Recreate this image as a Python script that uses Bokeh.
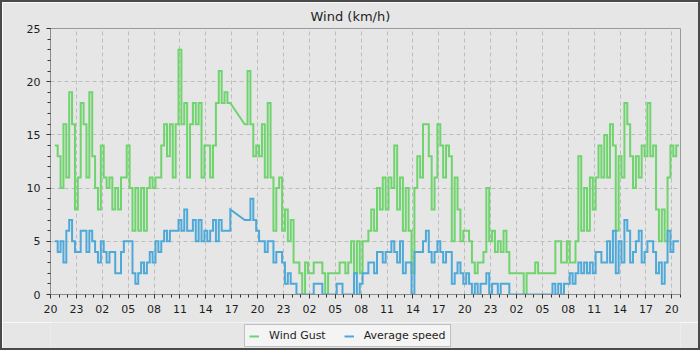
from bokeh.plotting import figure
from bokeh.models import FixedTicker, Legend, LegendItem, Range1d
from bokeh.layouts import column
from bokeh.embed import file_html
from bokeh.resources import INLINE

title_text = "Wind (km/h)"
tick_hours = list(range(0, 73, 3))
tick_labels = ["20", "23", "02", "05", "08", "11", "14", "17"] * 3 + ["20"]

# samples every 20 minutes, first sample 30 min after the first "20" tick
start_hour = 0.5
step_hours = 1 / 3

gust = [
    14, 13, 10, 16, 11, 19, 16, 8, 11, 18, 16, 11,
    19, 13, 10, 8, 14, 11, 10, 11, 8, 10, 8, 11,
    11, 14, 10, 6, 10, 6, 10, 6, 10, 11, 10, 11,
    11, 14, 16, 13, 16, 11, 16, 23, 16, 18, 11, 16,
    18, 16, 18, 11, 14, 14, 11, 14, 18, 21, 18, 19,
    18, 18, None, None, None, None, 16, 21, 16, 13, 14, 13,
    16, 11, 18, 11, 6, 10, 11, 6, 8, 5, 7, 3,
    3, 2, 0, 3, 2, 2, 3, 3, 3, 2, 0, 2,
    2, 2, 2, 3, 3, 2, 3, 5, 2, 5, 2, 5,
    5, 6, 8, 6, 10, 8, 11, 8, 11, 10, 14, 8,
    11, 6, 10, 6, 2, 10, 13, 11, 16, 16, 13, 8,
    11, 16, 14, 11, 14, 13, 5, 11, 8, 5, 6, 6,
    5, 3, 2, 3, 3, 4, 10, 5, 6, 4, 5, 4,
    6, 4, 2, 2, 2, 2, 2, 0, 2, 2, 2, 3,
    2, 2, 2, 2, 2, 2, 5, 5, 3, 3, 5, 3,
    3, 5, 13, 6, 10, 6, 11, 8, 11, 14, 11, 15,
    11, 16, 14, 6, 13, 11, 18, 16, 13, 10, 13, 11,
    14, 13, 18, 13, 14, 8, 5, 8, 5, 11, 14, 13,
    14, 14,
]

avg = [
    5, 4, 5, 3, 6, 7, 5, 4, 4, 6, 6, 4,
    6, 5, 4, 3, 5, 4, 3, 4, 4, 2, 2, 4,
    5, 5, 5, 2, 1, 2, 3, 2, 3, 4, 3, 5,
    4, 5, 6, 5, 6, 6, 6, 7, 6, 8, 6, 6,
    7, 5, 7, 5, 6, 5, 6, 7, 5, 7, 6, 6,
    6, 8, None, None, None, None, 7, 7, 9, 7, 6, 5,
    5, 4, 5, 5, 3, 4, 4, 3, 1, 2, 1, 1,
    0, 0, 0, 0, 0, 0, 1, 1, 1, 0, 0, 0,
    0, 0, 1, 1, 0, 0, 0, 0, 2, 0, 1, 2,
    2, 3, 3, 2, 4, 4, 3, 4, 4, 5, 4, 3,
    5, 2, 3, 3, 0, 4, 4, 4, 5, 6, 4, 3,
    4, 5, 4, 3, 4, 4, 1, 2, 3, 2, 1, 2,
    1, 0, 1, 0, 1, 1, 2, 0, 1, 1, 0, 1,
    1, 1, 0, 0, 0, 0, 0, 0, 0, 0, 0, 0,
    0, 0, 0, 0, 0, 1, 0, 1, 0, 1, 1, 2,
    1, 2, 3, 2, 3, 2, 3, 2, 4, 4, 3, 3,
    5, 3, 6, 2, 5, 3, 7, 6, 3, 4, 5, 6,
    3, 4, 5, 5, 4, 2, 3, 1, 3, 6, 4, 5,
    5, 5,
]

series_names = ["Wind Gust", "Average speed"]
series_colors = ["#6fd46d", "#4ea9d9"]


def step_path(hours, values, max_gap=0.5):
    xs, ys = [], []
    prev = None
    for t, v in zip(hours, values):
        if v is None:
            continue
        if prev is not None and t - prev[0] <= max_gap:
            xs.append(t)
            ys.append(prev[1])
        xs.append(t)
        ys.append(v)
        prev = (t, v)
    return xs, ys


font = "DejaVu Sans"
bg = "#e6e6e6"

p = figure(
    width=696, height=320,
    x_range=Range1d(0, 73), y_range=Range1d(0, 25),
    output_backend="svg", toolbar_location=None,
    min_border_left=48, min_border_right=18,
    min_border_top=22, min_border_bottom=28,
    background_fill_color=bg, border_fill_color=bg,
    outline_line_color="#9a9a9a",
)

p.title.text = title_text
p.title.align = "left"
p.title.offset = 260
p.title.standoff = 9
p.title.text_font = font
p.title.text_font_size = "13px"
p.title.text_font_style = "normal"
p.title.text_color = "#1e1e1e"

p.xaxis.ticker = FixedTicker(ticks=tick_hours, minor_ticks=list(range(0, 74)))
p.xaxis.major_label_overrides = {h: lab for h, lab in zip(tick_hours, tick_labels)}
p.yaxis.ticker = FixedTicker(ticks=[0, 5, 10, 15, 20, 25], minor_ticks=list(range(0, 26)))

for ax in (p.xaxis, p.yaxis):
    ax.axis_line_color = "#8c8c8c"
    ax.major_tick_line_color = "#333333"
    ax.minor_tick_line_color = "#333333"
    ax.major_tick_in = 0
    ax.major_tick_out = 4
    ax.minor_tick_in = 0
    ax.minor_tick_out = 3
    ax.major_label_text_font = font
    ax.major_label_text_font_size = "11px"
    ax.major_label_text_color = "#1e1e1e"
    ax.major_label_standoff = 6

p.grid.grid_line_color = "#bdbdbd"
p.grid.grid_line_dash = "4 3"
p.grid.grid_line_width = 1

hours_g = [start_hour + i * step_hours for i in range(len(gust))]
hours_a = [start_hour + i * step_hours for i in range(len(avg))]

# strip below the chart that carries the legend (its ranges keep the proxy lines out of view)
p2 = figure(
    width=696, height=26,
    x_range=Range1d(100, 101), y_range=Range1d(100, 101),
    x_axis_type=None, y_axis_type=None,
    output_backend="svg", toolbar_location=None,
    min_border=0, background_fill_color=bg, border_fill_color=bg,
    outline_line_color=None,
)

items = []
for name, color, hrs, vals in zip(series_names, series_colors, [hours_g, hours_a], [gust, avg]):
    xs, ys = step_path(hrs, vals)
    p.line(xs, ys, line_color=color, line_width=2, line_join="miter")
    proxy = p2.line(xs, ys, line_color=color, line_width=2)
    items.append(LegendItem(label=name, renderers=[proxy]))

legend = Legend(
    items=items, orientation="horizontal", location=(194, 1),
    background_fill_color="#f4f4f4", background_fill_alpha=1.0,
    border_line_color="#8c8c8c", border_line_width=1,
    label_text_font=font, label_text_font_size="11px", label_text_color="#1e1e1e",
    glyph_width=10, glyph_height=10, label_standoff=10, spacing=18,
    padding=4, margin=0, label_height=11,
)
p2.add_layout(legend, "center")

layout = column(p, p2, spacing=0)
layout.styles = {"border": "2px solid #4a4a4a"}
open("out.html", "w").write(file_html(layout, INLINE))
